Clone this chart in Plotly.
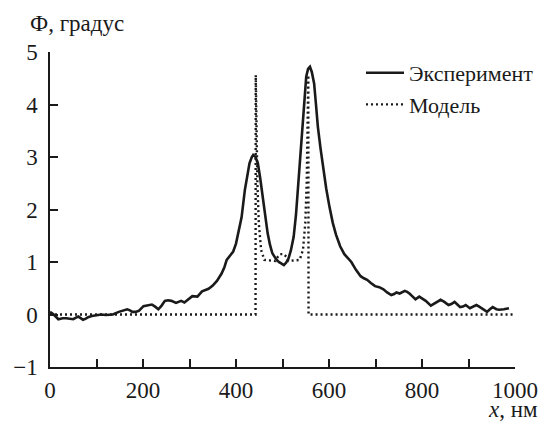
import plotly.graph_objects as go

exp_x = [0, 8, 18, 27, 35, 43, 50, 56, 61, 66, 71, 77, 82, 90, 99, 110, 120, 135, 148, 158,
         166, 172, 177, 184, 191, 201, 210, 219, 226, 233, 240, 247, 254, 261, 271, 277, 282,
         289, 297, 306, 317, 327, 341, 350, 359, 369, 375, 380, 387, 394, 400, 405, 412, 419,
         424, 429, 434, 437, 442, 447, 452, 457, 462, 468, 473, 478, 485, 492, 498, 503, 508,
         513, 518, 524, 529, 534, 540, 545, 551, 555, 559, 563, 568, 572, 576, 582, 587, 594,
         601, 608, 615, 624, 633, 641, 648, 658, 668, 675, 682, 690, 699, 708, 717, 725, 734,
         740, 745, 752, 758, 763, 768, 773, 780, 786, 794, 800, 808, 819, 830, 840, 848, 857,
         863, 870, 876, 882, 888, 894, 903, 910, 917, 923, 928, 934, 940, 946, 952, 960, 966,
         976, 987]
exp_y = [0.05, 0.0, -0.09, -0.07, -0.07, -0.08, -0.09, -0.06, -0.04, -0.07, -0.10, -0.08, -0.05,
         -0.03, -0.01, 0.0, -0.01, 0.0, 0.05, 0.07, 0.10, 0.08, 0.05, 0.05, 0.07, 0.16, 0.17,
         0.19, 0.15, 0.10, 0.17, 0.26, 0.27, 0.26, 0.22, 0.25, 0.26, 0.23, 0.29, 0.35, 0.34,
         0.44, 0.49, 0.55, 0.64, 0.78, 0.90, 1.04, 1.12, 1.20, 1.35, 1.55, 1.85, 2.37, 2.65,
         2.88, 3.00, 3.04, 3.00, 2.88, 2.60, 2.24, 1.90, 1.55, 1.33, 1.17, 1.07, 1.00, 0.97,
         0.94, 0.99, 1.07, 1.22, 1.48, 1.90, 2.50, 3.20, 3.90, 4.53, 4.68, 4.72, 4.62, 4.40,
         4.00, 3.58, 3.15, 2.82, 2.40, 2.05, 1.75, 1.52, 1.30, 1.15, 1.07, 1.00, 0.85, 0.73,
         0.69, 0.66, 0.60, 0.54, 0.52, 0.48, 0.42, 0.37, 0.39, 0.42, 0.40, 0.43, 0.45, 0.43,
         0.40, 0.34, 0.29, 0.34, 0.31, 0.26, 0.17, 0.23, 0.28, 0.24, 0.18, 0.20, 0.24, 0.19,
         0.14, 0.15, 0.18, 0.12, 0.15, 0.18, 0.15, 0.12, 0.08, 0.05, 0.10, 0.14, 0.10, 0.09,
         0.10, 0.12]

# Model curve
mod_x = [0, 442, 442.5, 444, 446, 449, 454, 461, 485, 490, 495, 503, 508, 513, 537, 544, 549,
         552, 554, 555.5, 556, 1000]
mod_y = [0, 0, 4.56, 3.4, 2.5, 1.74, 1.23, 1.04, 1.02, 1.10, 1.15, 1.15, 1.10, 1.02, 1.04, 1.23,
         1.74, 2.5, 3.4, 4.56, 0, 0]

x_ticks = [0, 100, 200, 300, 400, 500, 600, 700, 800, 900, 1000]
x_labels = ["0", "", "200", "", "400", "", "600", "", "800", "", "1000"]
y_ticks = [-1, 0, 1, 2, 3, 4, 5]
y_labels = ["\u22121", "0", "1", "2", "3", "4", "5"]

names = ["Эксперимент", "Модель"]
y_title = "Ф, градус"
x_title = "<i>x</i>, нм"

INK = "#1a1a1a"
FAM = "Liberation Serif"

def serif(size):
    return dict(family=FAM, size=size, color=INK)

fig = go.Figure()
fig.add_trace(go.Scatter(x=exp_x, y=exp_y, mode="lines", name=names[0], legendgroup="a",
                         line=dict(color=INK, width=2.6)))
fig.add_trace(go.Scatter(x=mod_x, y=mod_y, mode="lines", name=names[1], legendgroup="b",
                         line=dict(color=INK, width=2.4, dash="2px,3px")))

W, H = 551, 424
L, R, T, B = 50, 27, 52, 57
pw, ph = W - L - R, H - T - B

def px_x(p):
    return (p - L) / pw

def px_y(p):
    return 1 - (p - T) / ph

fig.update_layout(
    width=W, height=H,
    margin=dict(l=L, r=R, t=T, b=B),
    paper_bgcolor="white", plot_bgcolor="white",
    font=serif(23),
    showlegend=True,
    legend=dict(x=px_x(367), y=px_y(52), xanchor="left", yanchor="top",
                bgcolor="rgba(0,0,0,0)", font=serif(22),
                itemwidth=38, tracegroupgap=0, traceorder="grouped"),
    xaxis=dict(range=[0, 1000], showgrid=False, zeroline=False, showline=True,
               linecolor=INK, linewidth=1.5, ticks="inside", ticklen=8, tickwidth=1.5,
               tickcolor=INK, tickmode="array", tickvals=x_ticks, ticktext=x_labels,
               ticklabelstandoff=2, tickfont=serif(23)),
    yaxis=dict(range=[-1, 5], showgrid=False, zeroline=False, showline=True,
               linecolor=INK, linewidth=1.5, ticks="inside", ticklen=8, tickwidth=1.5,
               tickcolor=INK, tickmode="array", tickvals=y_ticks, ticktext=y_labels,
               ticklabelstandoff=6, tickfont=serif(23)),
    annotations=[
        dict(text=y_title, xref="paper", yref="paper", x=px_x(28), y=px_y(38),
             xanchor="left", yanchor="bottom", showarrow=False, font=serif(23)),
        dict(text=x_title, xref="paper", yref="paper", x=px_x(549), y=px_y(424),
             xanchor="right", yanchor="bottom", showarrow=False, font=serif(23)),
    ],
)

fig.write_html("out.html")
